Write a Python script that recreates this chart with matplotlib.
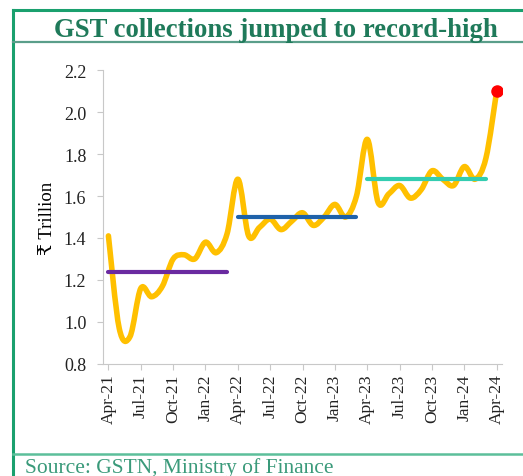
import matplotlib
matplotlib.use("Agg")
import matplotlib.pyplot as plt
from matplotlib.path import Path
from matplotlib.patches import PathPatch
from matplotlib.lines import Line2D
import numpy as np

# monthly GST collections, Apr-21 .. Apr-24 (Rs trillion)
months = ["Apr-21", "May-21", "Jun-21", "Jul-21", "Aug-21", "Sep-21", "Oct-21", "Nov-21",
          "Dec-21", "Jan-22", "Feb-22", "Mar-22", "Apr-22", "May-22", "Jun-22", "Jul-22",
          "Aug-22", "Sep-22", "Oct-22", "Nov-22", "Dec-22", "Jan-23", "Feb-23", "Mar-23",
          "Apr-23", "May-23", "Jun-23", "Jul-23", "Aug-23", "Sep-23", "Oct-23", "Nov-23",
          "Dec-23", "Jan-24", "Feb-24", "Mar-24", "Apr-24"]
gst = [1.41, 0.97, 0.93, 1.16, 1.12, 1.17, 1.30, 1.32, 1.30, 1.38, 1.33, 1.42,
       1.68, 1.41, 1.45, 1.49, 1.44, 1.48, 1.52, 1.46, 1.50, 1.56, 1.50, 1.60,
       1.87, 1.57, 1.61, 1.65, 1.59, 1.63, 1.72, 1.68, 1.65, 1.74, 1.68, 1.78,
       2.10]

# fiscal-year averages: (first month index, last month index, value)
fy_start = [0, 12, 24]
fy_end = [11, 23, 35]
fy_avg = [1.24, 1.50, 1.68]
fy_colors = ["#6a2aa0", "#1f62aa", "#33cdb0"]

tick_labels = months[::3]

serif = ["Liberation Serif", "DejaVu Serif", "DejaVu Sans"]
green = "#1aa06e"

fig = plt.figure(figsize=(5.23, 4.77), dpi=100)
ax = fig.add_axes([0.197, 0.235, 0.763, 0.616])

# smoothed line (Excel style) built from the monthly points as bezier segments
x = np.arange(len(gst), dtype=float)
y = np.array(gst)
verts = [(x[0], y[0])]
codes = [Path.MOVETO]
n = len(x)
for i in range(n - 1):
    p0 = np.array([x[max(i - 1, 0)], y[max(i - 1, 0)]])
    p1 = np.array([x[i], y[i]])
    p2 = np.array([x[i + 1], y[i + 1]])
    p3 = np.array([x[min(i + 2, n - 1)], y[min(i + 2, n - 1)]])
    c1 = p1 + (p2 - p0) / 6
    c2 = p2 - (p3 - p1) / 6
    verts += [tuple(c1), tuple(c2), tuple(p2)]
    codes += [Path.CURVE4] * 3
ax.add_patch(PathPatch(Path(verts, codes), facecolor="none", edgecolor="#FFC000",
                       lw=4.0, capstyle="round", joinstyle="round", zorder=2))

for s, e, v, c in zip(fy_start, fy_end, fy_avg, fy_colors):
    ax.plot([s, e], [v, v], color=c, lw=3.0, solid_capstyle="round", zorder=3)

ax.plot(x[-1], y[-1], "o", color="#ff0000", ms=8, zorder=4)

ax.set_xlim(-0.5, 36.5)
ax.set_ylim(0.8, 2.2)
ax.set_yticks(np.arange(0.8, 2.21, 0.2))
ax.set_yticklabels([f"{t:.1f}" for t in np.arange(0.8, 2.21, 0.2)], family=serif, fontsize=13)
ax.set_xticks(x[::3])
ax.set_xticklabels(tick_labels, rotation=90, family=serif, fontsize=12.5)
ax.set_ylabel("₹ Trillion", family=serif, fontsize=13.5, labelpad=6)

for side in ["top", "right"]:
    ax.spines[side].set_visible(False)
for side in ["left", "bottom"]:
    ax.spines[side].set_color("#c8c8c8")
ax.tick_params(axis="both", colors="#c8c8c8", labelcolor="#222222", length=4)
ax.tick_params(axis="y", pad=8)
ax.tick_params(axis="x", pad=3)

# green frame, title and source
fig.add_artist(Line2D([0.025, 1.0], [1 - 11 / 477] * 2, color=green, lw=2.2,
                      transform=fig.transFigure))
fig.add_artist(Line2D([0.025, 0.025], [0.0, 1 - 11 / 477], color=green, lw=2.2,
                      transform=fig.transFigure))
fig.add_artist(Line2D([0.025, 1.0], [1 - 43 / 477] * 2, color="#5a9e8a", lw=1.6,
                      transform=fig.transFigure))
fig.add_artist(Line2D([0.025, 1.0], [1 - 455 / 477] * 2, color="#5cbf9a", lw=1.8,
                      transform=fig.transFigure))

fig.text(0.527, 1 - 37 / 477, "GST collections jumped to record-high", ha="center",
         va="baseline", family=serif, fontsize=19.3, fontweight="bold", color="#1f7a5a")
fig.text(0.048, 0.008, "Source: GSTN, Ministry of Finance", ha="left", va="baseline",
         family=serif, fontsize=15.5, color="#3a9a7a")

fig.savefig("out.png", dpi=100)
